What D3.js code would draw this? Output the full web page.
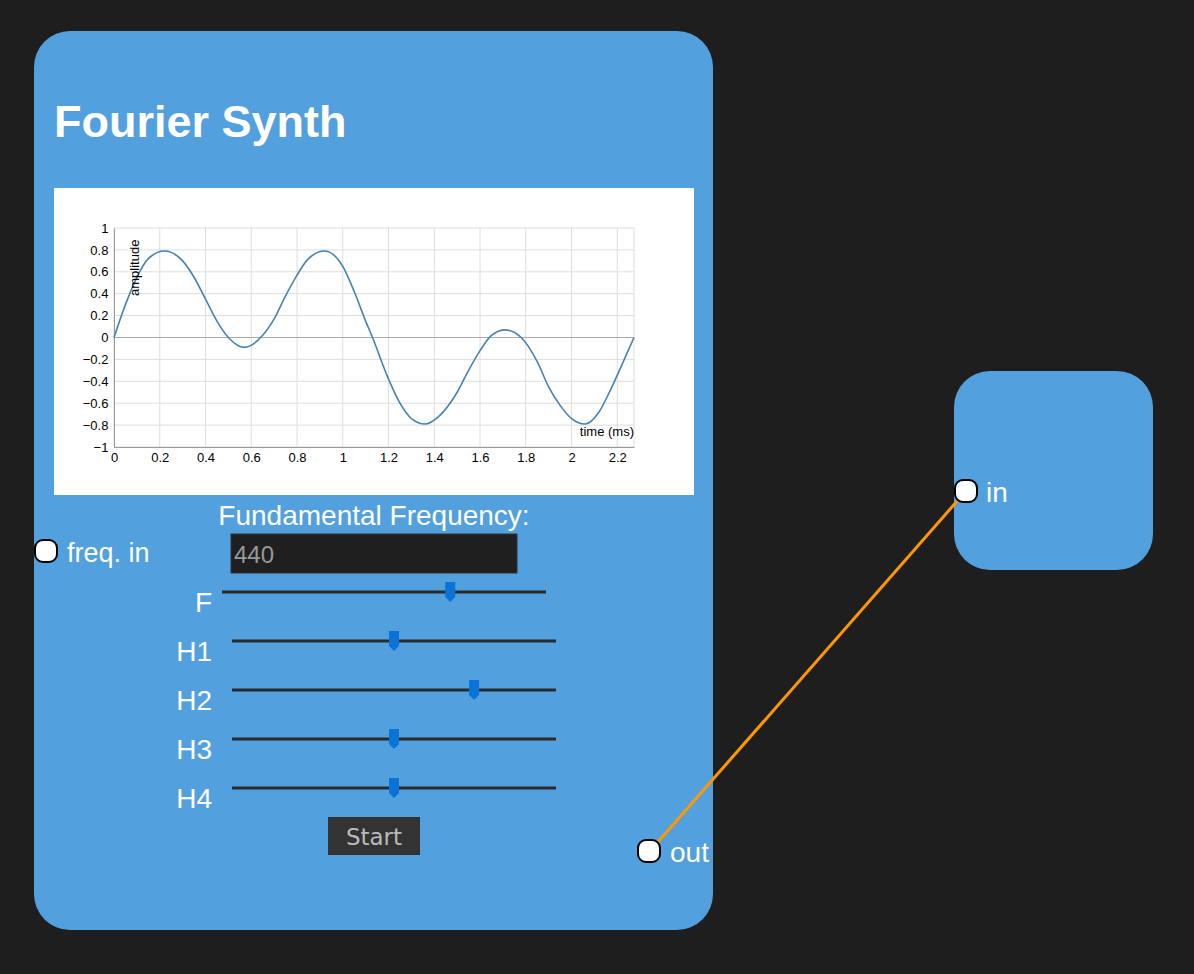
<!DOCTYPE html>
<html><head><meta charset="utf-8">
<script src="https://cdn.jsdelivr.net/npm/d3@7"></script>
<style>body{margin:0;background:#1e1e1e;overflow:hidden}</style>
</head><body>
<script>
// waveform samples
var times = [0,0.05,0.1,0.15,0.22,0.3,0.35,0.4,0.45,0.5,0.57,0.65,0.7,0.75,0.8,0.85,0.92,1.0,1.05,1.1,1.13,1.2,1.25,1.3,1.36,1.42,1.5,1.55,1.6,1.65,1.71,1.78,1.85,1.9,1.95,2.0,2.06,2.12,2.17,2.22,2.273];
var amps = [0,0.3,0.55,0.72,0.79,0.7,0.55,0.35,0.15,0,-0.09,0.02,0.17,0.38,0.57,0.72,0.79,0.65,0.42,0.15,0,-0.38,-0.6,-0.74,-0.79,-0.72,-0.5,-0.3,-0.12,0.02,0.07,0,-0.22,-0.45,-0.62,-0.74,-0.79,-0.68,-0.48,-0.25,0];
var xTicks = [0,0.2,0.4,0.6,0.8,1,1.2,1.4,1.6,1.8,2,2.2];
var yTicks = [-1,-0.8,-0.6,-0.4,-0.2,0,0.2,0.4,0.6,0.8,1];
var sliderNames = ["F","H1","H2","H3","H4"];
var sliderValues = [0.715,0.5,0.76,0.5,0.5];
var freq = "440";

var svg = d3.select("body").append("svg").attr("width",1194).attr("height",974);
var font = "Arial, 'Liberation Sans', sans-serif";

// cards
svg.append("rect").attr("x",34).attr("y",31).attr("width",679).attr("height",899).attr("rx",36).attr("fill","#52a0dd");
svg.append("rect").attr("x",954).attr("y",371).attr("width",199).attr("height",199).attr("rx",36).attr("fill","#52a0dd");
svg.append("text").attr("x",54).attr("y",137).attr("font-family",font).attr("font-weight","bold").attr("font-size",45).attr("fill","#fff").text("Fourier Synth");

// chart
svg.append("rect").attr("x",54).attr("y",188).attr("width",640).attr("height",307).attr("fill","#fff");
var x = d3.scaleLinear().domain([0,2.273]).range([114,634]);
var y = d3.scaleLinear().domain([-1,1]).range([447,228]);
var g = svg.append("g");
g.selectAll(".vx").data(xTicks.concat([2.273])).enter().append("line")
  .attr("x1",d=>x(d)).attr("x2",d=>x(d)).attr("y1",228).attr("y2",447).attr("stroke","#ddd");
g.selectAll(".hy").data(yTicks).enter().append("line")
  .attr("y1",d=>y(d)).attr("y2",d=>y(d)).attr("x1",114).attr("x2",634).attr("stroke",d=>d===0?"#aaa":"#ddd");
g.append("g").attr("transform","translate(0,447)").call(d3.axisBottom(x).tickValues(xTicks).tickSize(0).tickFormat(d3.format("")))
  .call(a=>{a.select(".domain").attr("stroke","#999");a.selectAll("text").attr("font-size",13).attr("font-family",font).attr("dy","0.9em");});
g.append("g").attr("transform","translate(114,0)").call(d3.axisLeft(y).tickValues(yTicks).tickSize(0).tickFormat(d3.format("")))
  .call(a=>{a.select(".domain").attr("stroke","#999");a.selectAll("text").attr("font-size",13).attr("font-family",font).attr("dx","-0.2em");});
g.append("path").datum(times.map((t,i)=>[t,amps[i]]))
  .attr("d",d3.line().x(d=>x(d[0])).y(d=>y(d[1])).curve(d3.curveMonotoneX))
  .attr("fill","none").attr("stroke","steelblue").attr("stroke-width",1.6);
g.append("text").attr("transform","translate(139,296) rotate(-90)").attr("font-size",13).attr("font-family",font).text("amplitude");
g.append("text").attr("x",634).attr("y",436).attr("text-anchor","end").attr("font-size",13).attr("font-family",font).text("time (ms)");

// controls
svg.append("text").attr("x",374).attr("y",525).attr("text-anchor","middle").attr("font-family",font).attr("font-size",28).attr("fill","#fff").text("Fundamental Frequency:");
svg.append("rect").attr("x",231).attr("y",534).attr("width",286).attr("height",39).attr("fill","#1f1f1f").attr("stroke","#333");
svg.append("text").attr("x",234).attr("y",563).attr("font-family",font).attr("font-size",24).attr("fill","#999").text(freq);
svg.append("text").attr("x",67).attr("y",562).attr("font-family",font).attr("font-size",27).attr("fill","#fff").text("freq. in");

sliderNames.forEach(function(n,i){
  var cy = 592 + i*49, x0 = i===0?222:232;
  var s = d3.scaleLinear().domain([0,1]).range([x0+8,x0+316]);
  svg.append("text").attr("x",212).attr("y",cy+20).attr("text-anchor","end").attr("font-family",font).attr("font-size",28).attr("fill","#fff").text(n);
  svg.append("line").attr("x1",x0).attr("x2",x0+324).attr("y1",cy).attr("y2",cy).attr("stroke","#2a2a2a").attr("stroke-width",3);
  var tx = s(sliderValues[i]);
  svg.append("path").attr("d","M"+(tx-5)+","+(cy-10)+"h10v15l-5,5l-5,-5z").attr("fill","#0a74d6");
});

svg.append("rect").attr("x",328).attr("y",817).attr("width",92).attr("height",38).attr("fill","#333");
svg.append("text").attr("x",374).attr("y",845).attr("text-anchor","middle").attr("font-family","'DejaVu Sans', sans-serif").attr("font-size",23).attr("fill","#bbb").text("Start");

// connection + ports
svg.append("line").attr("x1",650).attr("y1",851).attr("x2",966).attr("y2",491).attr("stroke","#ff9800").attr("stroke-width",3);
[[46,551],[649,851],[966,491]].forEach(function(p){
  svg.append("rect").attr("x",p[0]-11).attr("y",p[1]-11).attr("width",22).attr("height",22).attr("rx",8)
    .attr("fill","#fff").attr("stroke","#000").attr("stroke-width",2);
});
svg.append("text").attr("x",670).attr("y",862).attr("font-family",font).attr("font-size",28).attr("fill","#fff").text("out");
svg.append("text").attr("x",986).attr("y",502).attr("font-family",font).attr("font-size",28).attr("fill","#fff").text("in");
</script>
</body></html>
